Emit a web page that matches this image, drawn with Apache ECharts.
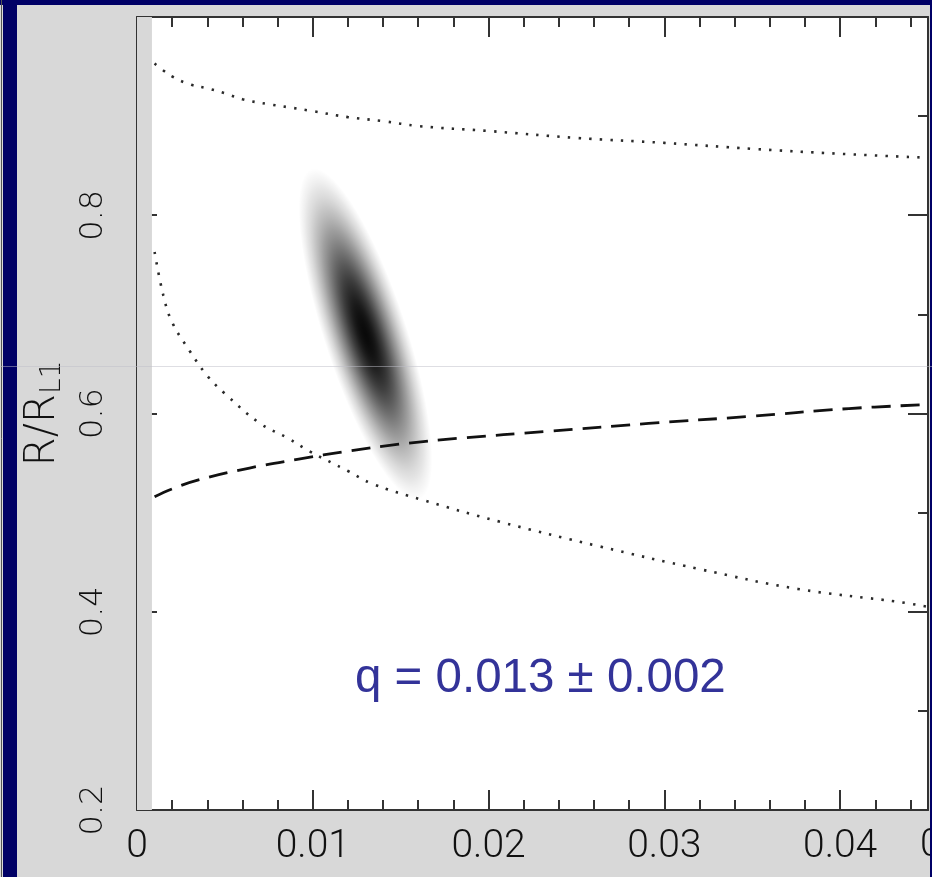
<!DOCTYPE html>
<html>
<head>
<meta charset="utf-8">
<script src="https://cdn.jsdelivr.net/npm/echarts@6/dist/echarts.min.js"></script>
<style>
  html, body { margin: 0; padding: 0; background: #d8d8d8; }
  #chart { width: 932px; height: 877px; }
</style>
</head>
<body>
<div id="chart"></div>
<script>
// Axis ranges and tick steps
const qRange = [0, 0.045];
const rRange = [0.2, 1.0];
const qMajorStep = 0.01;
const qMinorStep = 0.002;
const rMajorStep = 0.2;
const rMinorStep = 0.1;

// Unfilled region on the low-q side of the density map
const qMapStart = 0.00085;

// Upper dotted bound
const qUpper = [0.001, 0.0015, 0.002, 0.003, 0.004, 0.005, 0.006, 0.0075, 0.0086, 0.010, 0.012, 0.014, 0.016, 0.020, 0.025, 0.030, 0.035, 0.040, 0.045];
const rUpper = [0.953, 0.946, 0.940, 0.932, 0.928, 0.923, 0.917, 0.912, 0.909, 0.905, 0.899, 0.895, 0.890, 0.885, 0.878, 0.873, 0.867, 0.862, 0.858];

// Lower dotted bound
const qLower = [0.001, 0.0015, 0.002, 0.003, 0.004, 0.005, 0.007, 0.0086, 0.0098, 0.012, 0.0134, 0.0162, 0.0206, 0.0263, 0.032, 0.0376, 0.0433, 0.045];
const rLower = [0.763, 0.719, 0.692, 0.663, 0.638, 0.620, 0.590, 0.575, 0.562, 0.542, 0.529, 0.513, 0.491, 0.466, 0.443, 0.423, 0.410, 0.405];

// Dashed relation
const qDashed = [0.001, 0.002, 0.0035, 0.0064, 0.0092, 0.012, 0.0149, 0.0183, 0.0234, 0.0291, 0.0348, 0.0405, 0.045];
const rDashed = [0.516, 0.524, 0.533, 0.545, 0.554, 0.562, 0.569, 0.575, 0.582, 0.590, 0.597, 0.605, 0.609];

// Posterior: mean q, sigma q, mean R, sigma R, correlation
const posterior = [[0.013, 0.002, 0.68, 0.088, -0.76]];

const zip = (xs, ys) => xs.map((x, i) => [x, ys[i]]);

// Grey-scale falloff of the density map (near-black at the peak)
const K = 1.9;
const peakAlpha = 0.96;
const floor = Math.exp(-K * K / 2);
const stops = [];
for (let i = 0; i <= 24; i++) {
  const t = i / 24;
  const r = t * K;
  const a = peakAlpha * Math.max(0, (Math.exp(-r * r / 2) - floor) / (1 - floor));
  stops.push({ offset: t, color: 'rgba(0,0,0,' + a.toFixed(3) + ')' });
}

const chart = echarts.init(document.getElementById('chart'), null, { renderer: 'canvas' });

const axisColor = '#333333';
const inkColor = '#111111';
const fmt = v => String(+v.toFixed(3));

const grid = { left: 137, top: 17, right: 4, bottom: 67, show: true, backgroundColor: '#ffffff', borderWidth: 0 };

function xAx(pos, step, len, labels, line) {
  return {
    type: 'value', position: pos, min: qRange[0], max: qRange[1], interval: step,
    axisLine: { show: line, onZero: false, lineStyle: { color: axisColor, width: 2 } },
    axisTick: { show: true, inside: true, length: len, lineStyle: { color: axisColor, width: 2 } },
    axisLabel: labels ? {
      show: true, fontSize: 39, margin: 18, formatter: fmt, showMaxLabel: false,
      color: inkColor, fontFamily: 'Roboto', fontWeight: 300
    } : { show: false },
    splitLine: { show: false }
  };
}
function yAx(pos, step, len, labels, line, name) {
  const ax = {
    type: 'value', position: pos, min: rRange[0], max: rRange[1], interval: step,
    axisLine: { show: line, onZero: false, lineStyle: { color: axisColor, width: 2 } },
    axisTick: { show: true, inside: true, length: len, lineStyle: { color: axisColor, width: 2 } },
    axisLabel: labels ? {
      show: true, fontSize: 32, rotate: 90, margin: 27, formatter: fmt, showMaxLabel: false,
      color: inkColor, fontFamily: 'DejaVu Sans', fontWeight: 200
    } : { show: false },
    splitLine: { show: false }
  };
  if (name) {
    ax.name = '{m|R/R}{s|L1}';
    ax.nameLocation = 'middle';
    ax.nameRotate = 90;
    ax.nameGap = 70;
    ax.nameTextStyle = {
      color: inkColor, fontFamily: 'DejaVu Sans', fontWeight: 200,
      rich: {
        m: { fontSize: 42, fontFamily: 'DejaVu Sans', fontWeight: 200, color: inkColor },
        s: { fontSize: 28, fontFamily: 'DejaVu Sans', fontWeight: 200, color: inkColor, padding: [20, 0, 0, 0] }
      }
    };
  }
  return ax;
}

const option = {
  backgroundColor: '#d8d8d8',
  animation: false,
  grid: grid,
  xAxis: [
    xAx('bottom', qMajorStep, 20, true, true),
    xAx('bottom', qMinorStep, 10, false, false),
    xAx('top', qMajorStep, 20, false, true),
    xAx('top', qMinorStep, 10, false, false)
  ],
  yAxis: [
    yAx('left', rMajorStep, 20, true, true, true),
    yAx('left', rMinorStep, 10, false, false),
    yAx('right', rMajorStep, 20, false, true),
    yAx('right', rMinorStep, 10, false, false)
  ],
  series: [
    {
      type: 'line', data: [], xAxisIndex: 0, yAxisIndex: 0, silent: true,
      markArea: {
        silent: true,
        itemStyle: { color: '#d8d8d8' },
        data: [[{ xAxis: qRange[0], yAxis: rRange[0] }, { xAxis: qMapStart, yAxis: rRange[1] }]]
      }
    },
    {
      type: 'custom', xAxisIndex: 0, yAxisIndex: 0, silent: true, clip: true,
      data: posterior,
      renderItem: function (params, api) {
        const c = api.coord([api.value(0), api.value(2)]);
        const sx = api.size([api.value(1), 0])[0];
        const sy = api.size([0, api.value(3)])[1];
        const rho = api.value(4);
        // pixel-space covariance (screen y runs downwards)
        const a = sx * sx, d = sy * sy, b = -rho * sx * sy;
        const tr = a + d, det = a * d - b * b;
        const disc = Math.sqrt(tr * tr / 4 - det);
        const l1 = tr / 2 + disc, l2 = tr / 2 - disc;
        const ang = Math.atan2(b, l1 - a);
        return {
          type: 'circle',
          x: c[0], y: c[1],
          rotation: ang,
          scaleX: Math.sqrt(l2) * K / 100,
          scaleY: Math.sqrt(l1) * K / 100,
          shape: { cx: 0, cy: 0, r: 100 },
          style: { fill: new echarts.graphic.RadialGradient(0.5, 0.5, 0.5, stops) }
        };
      }
    },
    {
      type: 'line', data: zip(qUpper, rUpper), smooth: 0.4, showSymbol: false, silent: true,
      lineStyle: { color: '#2a2a2a', width: 2.6, type: [2.4, 8.2] }
    },
    {
      type: 'line', data: zip(qLower, rLower), smooth: 0.4, showSymbol: false, silent: true,
      lineStyle: { color: '#2a2a2a', width: 2.6, type: [2.4, 8.2] }
    },
    {
      type: 'line', data: zip(qDashed, rDashed), smooth: 0.4, showSymbol: false, silent: true,
      lineStyle: { color: '#111111', width: 2.8, type: [19, 10] }
    }
  ],
  graphic: [
    { type: 'text', z: 50, left: 355, top: 655, style: { text: 'q = 0.013 ± 0.002', fill: '#333399', font: '47.5px "Liberation Sans", Arial, sans-serif' } },
    { type: 'text', z: 50, left: 920, top: 827, style: { text: '0.05', fill: inkColor, font: '300 39px Roboto' } },
    { type: 'rect', z: 100, shape: { x: 0, y: 0, width: 932, height: 5 }, style: { fill: '#000066' } },
    { type: 'rect', z: 100, shape: { x: 3, y: 0, width: 14, height: 877 }, style: { fill: '#000066' } },
    { type: 'rect', z: 100, shape: { x: 930, y: 0, width: 2, height: 877 }, style: { fill: '#000066' } },
    { type: 'line', z: 100, shape: { x1: 1.5, y1: 0, x2: 1.5, y2: 877 }, style: { stroke: '#555555', lineWidth: 1 } },
    { type: 'line', z: 110, shape: { x1: 0, y1: 366.5, x2: 932, y2: 366.5 }, style: { stroke: 'rgba(190,190,200,0.5)', lineWidth: 1 } }
  ]
};

chart.setOption(option);
</script>
</body>
</html>
